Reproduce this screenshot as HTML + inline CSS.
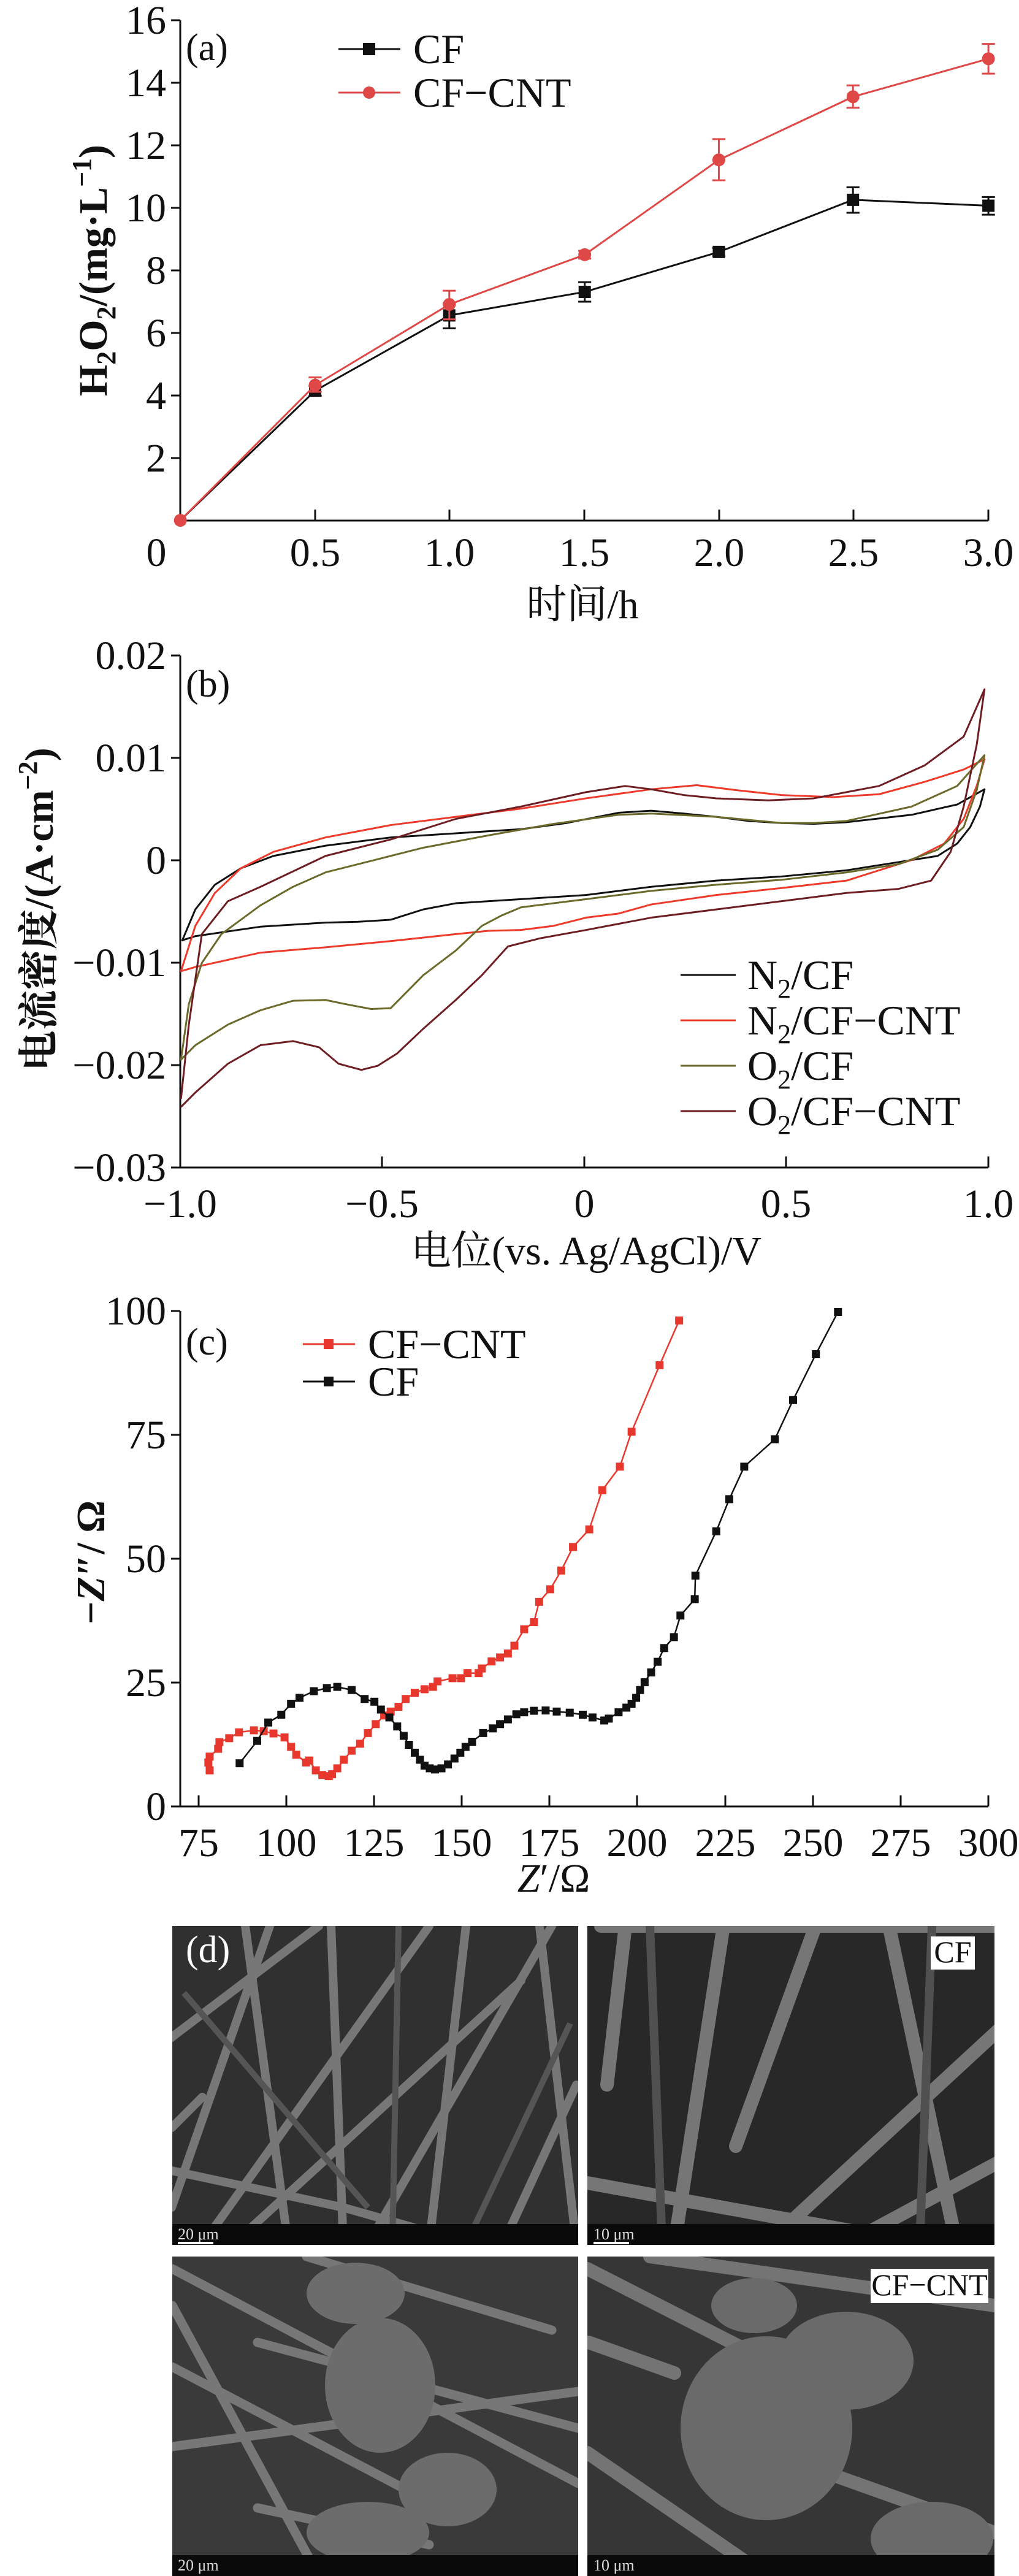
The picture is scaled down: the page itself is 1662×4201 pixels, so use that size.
<!DOCTYPE html>
<html><head><meta charset="utf-8"><style>
html,body{margin:0;padding:0;background:#fff}
svg{display:block}
text{font-family:"Liberation Serif","Noto Serif CJK SC",serif;fill:#111}
.t{font-size:66px}
.lg{font-size:68px}
.ns{vector-effect:non-scaling-stroke;fill:none}
</style></head><body>
<svg width="1662" height="4201" viewBox="0 0 1662 4201" xmlns="http://www.w3.org/2000/svg">
<!-- ============ (a) ============ -->
<g stroke="#111" stroke-width="3" fill="none">
<path d="M294 33V849H1612"/>
<path d="M279 33H294M279 135H294M279 237H294M279 339H294M279 441H294M279 543H294M279 645H294M279 747H294"/>
<path d="M514 849V831M733 849V831M953 849V831M1173 849V831M1392 849V831M1612 849V831"/>
</g>
<g class="t" text-anchor="end">
<text x="271" y="55">16</text><text x="271" y="157">14</text><text x="271" y="259">12</text><text x="271" y="361">10</text>
<text x="271" y="463">8</text><text x="271" y="565">6</text><text x="271" y="667">4</text><text x="271" y="769">2</text>
</g>
<g class="t" text-anchor="middle">
<text x="255" y="923">0</text><text x="514" y="923">0.5</text><text x="733" y="923">1.0</text><text x="953" y="923">1.5</text>
<text x="1173" y="923">2.0</text><text x="1392" y="923">2.5</text><text x="1612" y="923">3.0</text>
</g>
<text x="950" y="1008" text-anchor="middle" style="font-size:66px">时间/h</text>
<text x="303" y="98" style="font-size:62px">(a)</text>
<text transform="translate(174,441) rotate(-90)" text-anchor="middle" style="font-size:66px;font-weight:bold">H<tspan dy="14" style="font-size:44px">2</tspan><tspan dy="-14">O</tspan><tspan dy="14" style="font-size:44px">2</tspan><tspan dy="-14">/(mg·L</tspan><tspan dy="-26" style="font-size:44px">−1</tspan><tspan dy="26">)</tspan></text>
<!-- legend a -->
<path d="M552 80H653" stroke="#111" stroke-width="3"/><rect x="592" y="70" width="20" height="20" fill="#111"/>
<text class="lg" x="674" y="103">CF</text>
<path d="M552 151H653" stroke="#e04848" stroke-width="3"/><circle cx="602" cy="151" r="10" fill="#e04848"/>
<text class="lg" x="674" y="174">CF−CNT</text>
<g transform="matrix(1.062,0,0,0.639,0,0)">
<path class="ns" stroke="#111" stroke-width="3" d="M277 1328L484 997L690 805L898 745L1104 643L1310 510L1518 525"/>
<path class="ns" stroke="#111" stroke-width="3" d="M484 985V1010M474 985H494M474 1010H494M690 775V838M680 775H700M680 838H700M898 720V770M888 720H908M888 770H908M1104 633V653M1094 633H1114M1094 653H1114M1310 478V543M1300 478H1320M1300 543H1320M1518 503V548M1508 503H1528M1508 548H1528"/>
<path class="ns" stroke="#111" stroke-width="20" stroke-linecap="square" d="M484 997h0M690 805h0M898 745h0M1104 643h0M1310 510h0M1518 525h0"/>
<path class="ns" stroke="#e04848" stroke-width="3" d="M277 1328L484 983L690 777L898 650L1104 408L1310 247L1518 150"/>
<path class="ns" stroke="#e04848" stroke-width="3" d="M484 963V1000M474 963H494M474 1000H494M690 742V815M680 742H700M680 815H700M898 640V660M888 640H908M888 660H908M1104 355V460M1094 355H1114M1094 460H1114M1310 218V275M1300 218H1320M1300 275H1320M1518 112V188M1508 112H1528M1508 188H1528"/>
<path class="ns" stroke="#e04848" stroke-width="21" stroke-linecap="round" d="M277 1328h0M484 983h0M690 777h0M898 650h0M1104 408h0M1310 247h0M1518 150h0"/>
</g>

<!-- ============ (b) ============ -->
<g stroke="#111" stroke-width="3" fill="none">
<path d="M294 1069V1904H1612"/>
<path d="M279 1069H294M279 1236H294M279 1403H294M279 1570H294M279 1737H294M279 1904H294"/>
<path d="M623 1904V1886M953 1904V1886M1282 1904V1886M1612 1904V1886"/>
</g>
<g class="t" text-anchor="end">
<text x="271" y="1091">0.02</text><text x="271" y="1258">0.01</text><text x="271" y="1425">0</text>
<text x="271" y="1592">−0.01</text><text x="271" y="1759">−0.02</text><text x="271" y="1926">−0.03</text>
</g>
<g class="t" text-anchor="middle">
<text x="294" y="1985">−1.0</text><text x="623" y="1985">−0.5</text><text x="953" y="1985">0</text><text x="1282" y="1985">0.5</text><text x="1612" y="1985">1.0</text>
</g>
<text x="956" y="2062" text-anchor="middle" style="font-size:66px">电位(vs. Ag/AgCl)/V</text>
<text x="303" y="1136" style="font-size:62px">(b)</text>
<text transform="translate(86,1483) rotate(-90)" text-anchor="middle" style="font-size:66px;font-weight:bold">电流密度/(A·cm<tspan dy="-26" style="font-size:44px">−2</tspan><tspan dy="26">)</tspan></text>
<g stroke-width="3">
<path d="M1110 1590H1200" stroke="#111"/><path d="M1110 1664H1200" stroke="#ee3a2a"/>
<path d="M1110 1738H1200" stroke="#6b6a2a"/><path d="M1110 1812H1200" stroke="#6e1e22"/>
</g>
<g class="lg">
<text x="1219" y="1613">N<tspan dy="14" style="font-size:44px">2</tspan><tspan dy="-14">/CF</tspan></text>
<text x="1219" y="1687">N<tspan dy="14" style="font-size:44px">2</tspan><tspan dy="-14">/CF−CNT</tspan></text>
<text x="1219" y="1761">O<tspan dy="14" style="font-size:44px">2</tspan><tspan dy="-14">/CF</tspan></text>
<text x="1219" y="1835">O<tspan dy="14" style="font-size:44px">2</tspan><tspan dy="-14">/CF−CNT</tspan></text>
</g>
<g transform="matrix(1.062,0,0,0.671,0,1000)" stroke-width="3" stroke-linejoin="round">
<path class="ns" stroke="#111" d="M280 795L300 720L330 660L370 620L420 590L500 565L600 545L700 535L800 525L870 510L950 485L1000 480L1050 487L1100 495L1150 505L1200 510L1250 512L1300 508L1400 490L1470 465L1512 428L1505 470L1490 520L1470 560L1440 590L1380 605L1300 625L1200 640L1100 650L1000 665L900 685L800 695L700 705L650 720L600 745L550 750L500 752L400 762L300 785Z"/>
<path class="ns" stroke="#ee3a2a" d="M278 870L300 760L330 680L370 620L420 580L500 545L600 515L700 495L800 475L900 450L1000 428L1070 418L1130 430L1200 442L1280 447L1350 440L1420 410L1480 380L1512 355L1500 420L1480 500L1450 560L1400 600L1350 625L1300 650L1200 668L1100 685L1000 708L950 730L900 740L850 760L800 770L750 772L700 780L600 797L500 812L400 825L300 860Z"/>
<path class="ns" stroke="#6b6a2a" d="M278 1085L290 950L310 850L340 780L400 710L450 665L500 630L550 610L650 570L750 540L850 512L950 490L1000 487L1100 495L1200 510L1250 510L1300 505L1400 470L1470 420L1512 345L1500 430L1480 520L1440 575L1380 610L1300 630L1200 648L1100 660L1000 675L900 695L800 715L770 735L740 760L700 820L650 880L600 960L570 962L530 950L500 940L450 942L400 965L350 1000L300 1050Z"/>
<path class="ns" stroke="#6e1e22" d="M278 1180L290 1000L310 780L350 700L400 665L500 590L600 550L700 500L800 470L900 435L960 420L1000 428L1050 442L1100 450L1180 455L1250 450L1350 420L1420 370L1480 300L1512 185L1500 320L1480 470L1460 580L1430 650L1380 670L1300 680L1200 700L1100 720L1000 740L900 770L830 790L780 810L740 880L700 940L650 1010L610 1070L580 1100L555 1110L520 1095L490 1055L450 1040L400 1050L350 1095L300 1165L278 1200"/>
</g>

<!-- ============ (c) ============ -->
<g stroke="#111" stroke-width="3" fill="none">
<path d="M294 2138V2946H1612"/>
<path d="M279 2138H294M279 2340H294M279 2542H294M279 2744H294M279 2946H294"/>
<path d="M324 2946V2928M467 2946V2928M610 2946V2928M753 2946V2928M896 2946V2928M1039 2946V2928M1183 2946V2928M1326 2946V2928M1469 2946V2928M1612 2946V2928"/>
</g>
<g class="t" text-anchor="end">
<text x="271" y="2160">100</text><text x="271" y="2362">75</text><text x="271" y="2564">50</text><text x="271" y="2766">25</text><text x="271" y="2968">0</text>
</g>
<g class="t" text-anchor="middle">
<text x="324" y="3027">75</text><text x="467" y="3027">100</text><text x="610" y="3027">125</text><text x="753" y="3027">150</text><text x="896" y="3027">175</text>
<text x="1039" y="3027">200</text><text x="1183" y="3027">225</text><text x="1326" y="3027">250</text><text x="1469" y="3027">275</text><text x="1612" y="3027">300</text>
</g>
<text x="903" y="3085" text-anchor="middle" style="font-size:66px"><tspan font-style="italic">Z</tspan>′/Ω</text>
<text x="303" y="2209" style="font-size:62px">(c)</text>
<text transform="translate(170,2548) rotate(-90)" text-anchor="middle" style="font-size:66px;font-weight:bold">−<tspan font-style="italic">Z</tspan>″/ Ω</text>
<path d="M494 2192H579" stroke="#e8382e" stroke-width="3"/><rect x="528" y="2184" width="16" height="16" fill="#e8382e"/>
<text class="lg" x="600" y="2215">CF−CNT</text>
<path d="M494 2253H579" stroke="#111" stroke-width="3"/><rect x="528" y="2245" width="16" height="16" fill="#111"/>
<text class="lg" x="600" y="2276">CF</text>
<g transform="matrix(1.062,0,0,0.639,0,2050)">
<path class="ns" stroke="#e8382e" stroke-width="2.5" d="M322 1310L320 1290L322 1275L335 1255L337 1238L352 1228L367 1213L390 1208L405 1210L420 1216L437 1226L447 1250L455 1270L470 1290L475 1285L485 1310L495 1322L505 1325L510 1320L518 1305L528 1283L540 1260L553 1242L565 1215L577 1192L590 1170L600 1160L612 1148L623 1128L637 1112L652 1103L665 1097L672 1083L695 1075L708 1075L718 1062L735 1062L740 1050L755 1032L768 1022L780 1012L790 992L805 950L820 932L828 880L845 848L862 800L880 740L905 695L925 595L952 535L970 446L1013 276L1043 162"/>
<path class="ns" stroke="#e8382e" stroke-width="13" stroke-linecap="square" d="M322 1310h0M320 1290h0M322 1275h0M335 1255h0M337 1238h0M352 1228h0M367 1213h0M390 1208h0M405 1210h0M420 1216h0M437 1226h0M447 1250h0M455 1270h0M470 1290h0M475 1285h0M485 1310h0M495 1322h0M505 1325h0M510 1320h0M518 1305h0M528 1283h0M540 1260h0M553 1242h0M565 1215h0M577 1192h0M590 1170h0M600 1160h0M612 1148h0M623 1128h0M637 1112h0M652 1103h0M665 1097h0M672 1083h0M695 1075h0M708 1075h0M718 1062h0M735 1062h0M740 1050h0M755 1032h0M768 1022h0M780 1012h0M790 992h0M805 950h0M820 932h0M828 880h0M845 848h0M862 800h0M880 740h0M905 695h0M925 595h0M952 535h0M970 446h0M1013 276h0M1043 162h0"/>
<path class="ns" stroke="#111" stroke-width="2.5" d="M368 1292L395 1235L412 1188L432 1168L447 1140L460 1125L482 1108L502 1100L518 1097L540 1105L560 1128L575 1135L585 1155L598 1175L610 1198L620 1222L628 1245L637 1265L645 1283L652 1298L660 1305L668 1308L678 1305L688 1295L698 1280L707 1265L715 1250L725 1237L742 1215L757 1203L768 1192L780 1180L793 1167L805 1162L820 1158L838 1157L855 1160L875 1163L895 1168L910 1175L928 1183L935 1178L950 1162L962 1150L970 1140L977 1125L983 1105L990 1085L1000 1060L1010 1033L1020 998L1035 970L1045 915L1067 873L1068 813L1100 700L1120 618L1143 535L1190 465L1218 365L1253 248L1287 140"/>
<path class="ns" stroke="#111" stroke-width="13" stroke-linecap="square" d="M368 1292h0M395 1235h0M412 1188h0M432 1168h0M447 1140h0M460 1125h0M482 1108h0M502 1100h0M518 1097h0M540 1105h0M560 1128h0M575 1135h0M585 1155h0M598 1175h0M610 1198h0M620 1222h0M628 1245h0M637 1265h0M645 1283h0M652 1298h0M660 1305h0M668 1308h0M678 1305h0M688 1295h0M698 1280h0M707 1265h0M715 1250h0M725 1237h0M742 1215h0M757 1203h0M768 1192h0M780 1180h0M793 1167h0M805 1162h0M820 1158h0M838 1157h0M855 1160h0M875 1163h0M895 1168h0M910 1175h0M928 1183h0M935 1178h0M950 1162h0M962 1150h0M970 1140h0M977 1125h0M983 1105h0M990 1085h0M1000 1060h0M1010 1033h0M1020 998h0M1035 970h0M1045 915h0M1067 873h0M1068 813h0M1100 700h0M1120 618h0M1143 535h0M1190 465h0M1218 365h0M1253 248h0M1287 140h0"/>
</g>

<!-- ============ (d) SEM ============ -->
<defs>
<clipPath id="c1"><rect x="281" y="3141" width="662" height="520"/></clipPath>
<clipPath id="c2"><rect x="958" y="3141" width="664" height="520"/></clipPath>
<clipPath id="c3"><rect x="281" y="3680" width="662" height="521"/></clipPath>
<clipPath id="c4"><rect x="958" y="3680" width="664" height="521"/></clipPath>
</defs>
<g clip-path="url(#c1)">
<rect x="281" y="3141" width="662" height="520" fill="#303030"/>
<g stroke="#777" stroke-width="14" stroke-linecap="round" fill="none">
<path d="M270 3330L520 3141"/><path d="M330 3660L700 3141"/><path d="M280 3540L560 3600L700 3640"/>
<path d="M400 3141L470 3660"/><path d="M600 3660L900 3141"/><path d="M540 3141L560 3660"/>
<path d="M280 3600L440 3141"/><path d="M700 3660L760 3141"/><path d="M820 3660L940 3400"/>
<path d="M380 3660L850 3230"/><path d="M280 3470L330 3420"/><path d="M880 3141L940 3660"/>
</g>
<g stroke="#555" stroke-width="10" fill="none"><path d="M300 3250L600 3600"/><path d="M650 3141L640 3660"/><path d="M760 3660L930 3300"/></g>
<rect x="281" y="3627" width="662" height="34" fill="#0a0a0a"/>
<text x="290" y="3652" style="font-size:26px;fill:#ddd">20 μm</text>
<rect x="290" y="3656" width="58" height="4" fill="#fff"/>
</g>
<g clip-path="url(#c2)">
<rect x="958" y="3141" width="664" height="520" fill="#282828"/>
<g stroke="#767676" stroke-width="22" stroke-linecap="round" fill="none">
<path d="M958 3560L1400 3640"/><path d="M1100 3660L1180 3141"/><path d="M1250 3660L1640 3300"/>
<path d="M1380 3660L1640 3520"/><path d="M980 3141H1622"/><path d="M1450 3141L1560 3660"/>
<path d="M990 3400L1020 3141"/><path d="M1200 3500L1330 3141"/>
</g>
<g stroke="#505050" stroke-width="14" fill="none"><path d="M1060 3141L1080 3660"/><path d="M1520 3141L1500 3660"/></g>
<rect x="958" y="3627" width="664" height="34" fill="#0a0a0a"/>
<text x="968" y="3652" style="font-size:26px;fill:#ddd">10 μm</text>
<rect x="968" y="3656" width="58" height="4" fill="#fff"/>
<rect x="1518" y="3158" width="72" height="54" fill="#fff"/>
<text x="1554" y="3200" text-anchor="middle" style="font-size:50px">CF</text>
</g>
<g clip-path="url(#c3)">
<rect x="281" y="3680" width="662" height="521" fill="#3a3a3a"/>
<g stroke="#777" stroke-width="15" stroke-linecap="round" fill="none">
<path d="M281 3700L943 4050"/><path d="M420 3820L943 3960"/><path d="M281 3860L700 4080"/>
<path d="M281 3760L520 4201"/><path d="M500 3680L900 3800"/><path d="M420 4090L700 4150"/>
<path d="M281 3990L943 3900"/>
</g>
<g fill="#6c6c6c"><ellipse cx="620" cy="3890" rx="90" ry="110"/><ellipse cx="580" cy="3740" rx="80" ry="50"/><ellipse cx="730" cy="4060" rx="80" ry="60"/><ellipse cx="600" cy="4130" rx="100" ry="50"/></g>
<rect x="281" y="4167" width="662" height="34" fill="#0a0a0a"/>
<text x="290" y="4192" style="font-size:26px;fill:#ddd">20 μm</text>
</g>
<g clip-path="url(#c4)">
<rect x="958" y="3680" width="664" height="521" fill="#363636"/>
<g stroke="#747474" stroke-width="22" stroke-linecap="round" fill="none">
<path d="M958 3700L1330 3890"/><path d="M1060 3680L1622 3760"/><path d="M958 4000L1250 4201"/>
<path d="M1200 3980L1622 4130"/><path d="M960 3820L1100 3870"/>
</g>
<g fill="#6a6a6a"><ellipse cx="1250" cy="3960" rx="140" ry="150"/><ellipse cx="1380" cy="3850" rx="110" ry="80"/><ellipse cx="1520" cy="4140" rx="100" ry="60"/><ellipse cx="1230" cy="3760" rx="70" ry="45"/></g>
<rect x="958" y="4167" width="664" height="34" fill="#0a0a0a"/>
<text x="968" y="4192" style="font-size:26px;fill:#ddd">10 μm</text>
<rect x="1420" y="3700" width="192" height="56" fill="#fff"/>
<text x="1516" y="3743" text-anchor="middle" style="font-size:50px">CF−CNT</text>
</g>
<text x="303" y="3200" style="font-size:62px;fill:#fff">(d)</text>
</svg>
</body></html>
